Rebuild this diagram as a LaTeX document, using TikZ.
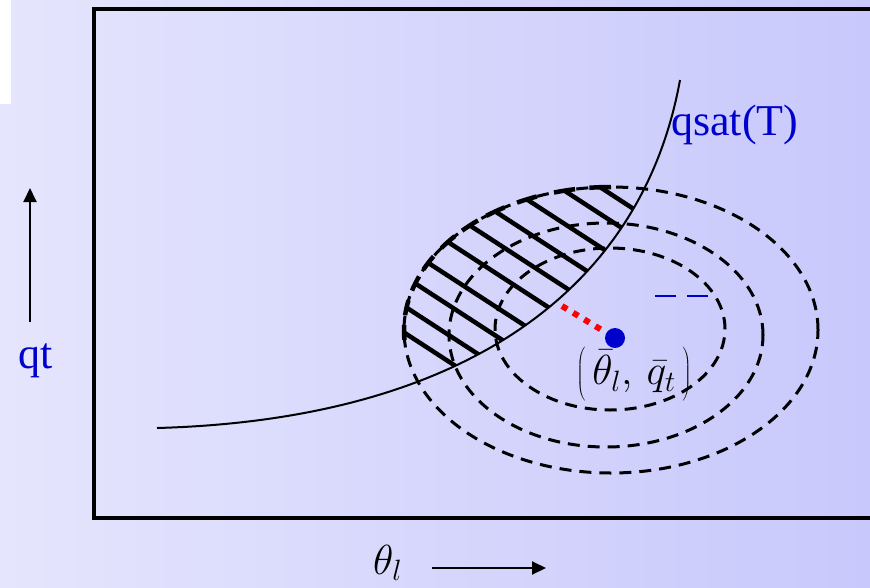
\RequirePackage{fix-cm}
\documentclass[tikz,border=0pt]{standalone}
\usepackage{fontspec}
\setmainfont{Liberation Serif}
\usetikzlibrary{arrows.meta}
\definecolor{bgleft}{RGB}{229,229,253}
\definecolor{bgright}{RGB}{200,200,252}
\definecolor{labblue}{RGB}{0,0,204}

\begin{document}
\begin{tikzpicture}[x=1pt,y=-1pt,>={Triangle[length=14pt,width=13pt]},
  ring/.style={dash pattern=on 12pt off 8pt,line width=3pt},
  hatchline/.style={line width=4.5pt},
  lab/.style={text=labblue,font=\fontsize{44}{48}\selectfont,inner sep=0pt},
  mathlab/.style={font=\fontsize{42}{46}\selectfont,inner sep=0pt}]
\useasboundingbox (0,0) rectangle (870,587);
\clip (0,0) rectangle (870,587);
\shade[left color=bgleft,right color=bgright] (0,0) rectangle (870,587);
\fill[white] (0,0) rectangle (11,104);
\draw[line width=4pt] (94,9) rectangle (880,518);

% contours round the mean
\coordinate (c) at (611,330);
\draw[ring] (c) ellipse [x radius=207pt,y radius=143pt];
\draw[ring] (606,335) ellipse [x radius=157pt,y radius=112pt];
\draw[ring] (610,329) ellipse [x radius=115pt,y radius=81pt];

% hatched part above qsat
\begin{scope}
  \clip (157,428) .. controls (450,420) and (640,300) .. (680,80)
    -- (680,0) -- (100,0) -- (100,428) -- cycle;
  \foreach \a in {93,103,114,124,133,142,152,161,171,181}
    \draw[hatchline] (c) ++(\a:207pt and 143pt) -- ++(200,130);
\end{scope}
\foreach \a in {93,103,114,124,133,142,152,161,171,181}
  \draw[hatchline] (c) ++(\a-3:207pt and 143pt)
    arc[start angle=\a-3,end angle=\a+3,x radius=207pt,y radius=143pt];

% saturation curve
\draw[line width=2pt] (157,428) .. controls (450,420) and (640,300) .. (680,80);
\node[lab,anchor=base west] (qsat) at (671,135) {qsat(T)};

\draw[labblue,line width=2pt,dash pattern=on 21pt off 11pt] (655,296) -- (708,296);

% mean point
\node[circle,fill=labblue,minimum size=20pt,inner sep=0pt] (mean) at (615,338) {};
\coordinate (foot) at (562,306);
\draw[red,line width=6pt,dash pattern=on 6pt off 7pt] (foot) -- (mean);
\node[mathlab] (meanlab) at (634,373)
  {$\left(\vrule height 40pt depth 16pt width 0pt\,\bar{\theta}_l,\,\bar{q}_t\,\right)$};

% axes
\node[lab,anchor=base] (qt) at (36,368) {qt};
\coordinate (qtail) at (30,322);
\coordinate (qhead) at (30,188);
\draw[->,line width=2pt] (qtail) -- (qhead);
\node[mathlab,anchor=base west] (thlab) at (373,574) {$\theta_l$};
\coordinate (ttail) at (432,568);
\coordinate (thead) at (546,568);
\draw[->,line width=2pt] (ttail) -- (thead);
\end{tikzpicture}
\end{document}
